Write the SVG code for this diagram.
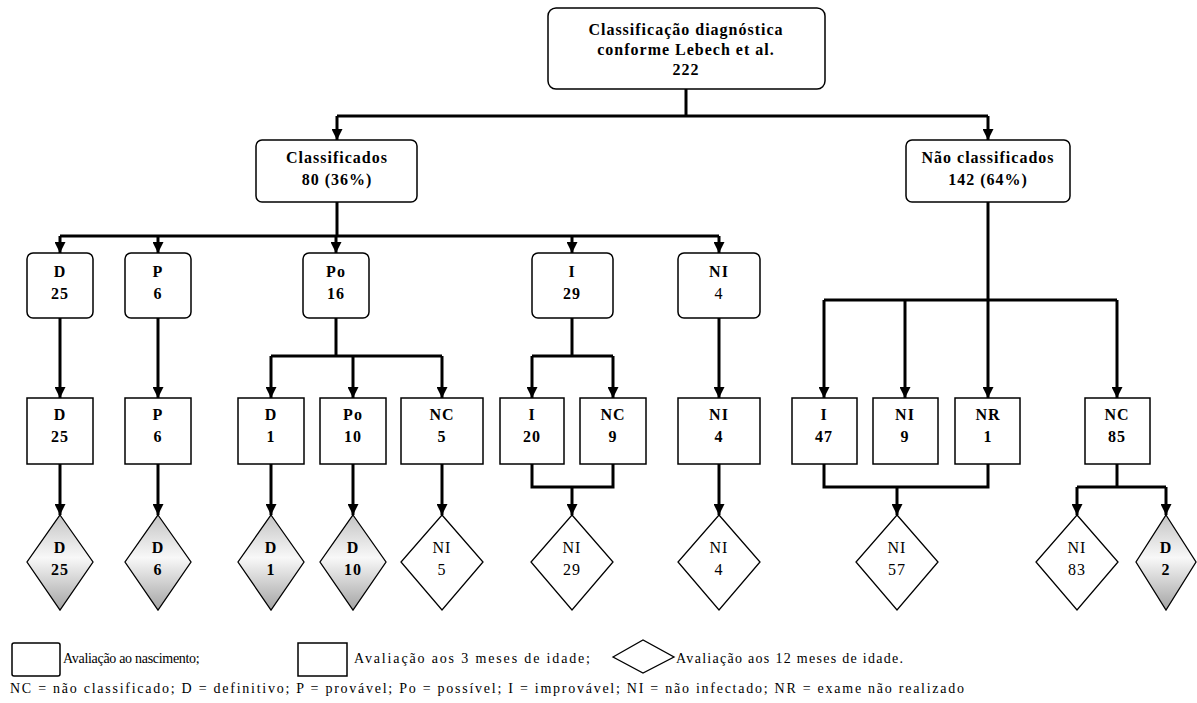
<svg xmlns="http://www.w3.org/2000/svg" width="1197" height="703" viewBox="0 0 1197 703">
<style>
.box{fill:#fff;stroke:#000;stroke-width:1.5}
.dia{fill:#fff;stroke:#000;stroke-width:1.3}
.dd{fill:url(#g);stroke:#000;stroke-width:1.3}
.t{font-family:"Liberation Serif","Times New Roman",serif;font-size:16px;font-weight:bold;text-anchor:middle;fill:#000;letter-spacing:1px}
.n{font-weight:normal}
.lg{font-family:"Liberation Serif","Times New Roman",serif;font-size:14px;fill:#000}
.c line,.c polyline{stroke:#000;stroke-width:3;fill:none}
.a{marker-end:url(#arr)}
</style>
<defs>
<marker id="arr" viewBox="0 0 10 10" refX="10" refY="5" markerWidth="11" markerHeight="11" markerUnits="userSpaceOnUse" orient="auto"><path d="M0,0 L10,5 L0,10 z" fill="#000"/></marker>
<linearGradient id="g" x1="0" y1="0" x2="0" y2="1"><stop offset="0" stop-color="#c4c4c4"/><stop offset="0.45" stop-color="#f8f8f8"/><stop offset="1" stop-color="#a4a4a4"/></linearGradient>
</defs>
<rect width="1197" height="703" fill="#fff"/>

<g id="connectors" class="c">
<line x1="686" y1="89" x2="686" y2="116"/>
<line x1="337" y1="116" x2="988" y2="116"/>
<line class="a" x1="337" y1="116" x2="337" y2="140"/>
<line class="a" x1="988" y1="116" x2="988" y2="140"/>
<line x1="337" y1="202" x2="337" y2="236"/>
<line x1="60" y1="236" x2="719" y2="236"/>
<line class="a" x1="60" y1="236" x2="60" y2="253"/>
<line class="a" x1="158" y1="236" x2="158" y2="253"/>
<line class="a" x1="336" y1="236" x2="336" y2="253"/>
<line class="a" x1="572" y1="236" x2="572" y2="253"/>
<line class="a" x1="719" y1="236" x2="719" y2="253"/>
<line class="a" x1="60" y1="318" x2="60" y2="398"/>
<line class="a" x1="158" y1="318" x2="158" y2="398"/>
<line x1="336" y1="318" x2="336" y2="356"/>
<line x1="271" y1="356" x2="442" y2="356"/>
<line class="a" x1="271" y1="356" x2="271" y2="398"/>
<line class="a" x1="353" y1="356" x2="353" y2="398"/>
<line class="a" x1="442" y1="356" x2="442" y2="398"/>
<line x1="572" y1="318" x2="572" y2="356"/>
<line x1="532" y1="356" x2="613" y2="356"/>
<line class="a" x1="532" y1="356" x2="532" y2="398"/>
<line class="a" x1="613" y1="356" x2="613" y2="398"/>
<line class="a" x1="719" y1="318" x2="719" y2="398"/>
<line x1="988" y1="202" x2="988" y2="300"/>
<line x1="824" y1="300" x2="1117" y2="300"/>
<line class="a" x1="824" y1="300" x2="824" y2="398"/>
<line class="a" x1="905" y1="300" x2="905" y2="398"/>
<line class="a" x1="988" y1="300" x2="988" y2="398"/>
<line class="a" x1="1117" y1="300" x2="1117" y2="398"/>
<line class="a" x1="60" y1="464" x2="60" y2="515"/>
<line class="a" x1="158" y1="464" x2="158" y2="515"/>
<line class="a" x1="271" y1="464" x2="271" y2="515"/>
<line class="a" x1="353" y1="464" x2="353" y2="515"/>
<line class="a" x1="442" y1="464" x2="442" y2="515"/>
<polyline points="532,464 532,487 613,487 613,464"/>
<line class="a" x1="572" y1="487" x2="572" y2="515"/>
<line class="a" x1="719" y1="464" x2="719" y2="515"/>
<polyline points="824,464 824,487 988,487 988,464"/>
<line class="a" x1="897" y1="487" x2="897" y2="515"/>
<line x1="1117" y1="464" x2="1117" y2="487"/>
<line x1="1077" y1="487" x2="1166" y2="487"/>
<line class="a" x1="1077" y1="487" x2="1077" y2="515"/>
<line class="a" x1="1166" y1="487" x2="1166" y2="515"/>
</g>

<g id="root"><rect class="box" x="548" y="8" width="277" height="81" rx="8"/>
<text class="t" x="686" y="35">Classificação diagnóstica</text>
<text class="t" x="686" y="55">conforme Lebech et al.</text>
<text class="t" x="686" y="75">222</text></g>

<g id="classificados"><rect class="box" x="256" y="140" width="161" height="62" rx="6"/>
<text class="t" x="337" y="163">Classificados</text><text class="t" x="337" y="185">80 (36%)</text></g>
<g id="nao-classificados"><rect class="box" x="906" y="140" width="164" height="62" rx="6"/>
<text class="t" x="988" y="163">Não classificados</text><text class="t" x="988" y="185">142 (64%)</text></g>

<g id="b-D25"><rect class="box" x="27" y="253" width="66" height="65" rx="6"/><text class="t" x="60" y="277">D</text><text class="t" x="60" y="299">25</text></g>
<g id="b-P6"><rect class="box" x="125" y="253" width="66" height="65" rx="6"/><text class="t" x="158" y="277">P</text><text class="t" x="158" y="299">6</text></g>
<g id="b-Po16"><rect class="box" x="303" y="253" width="66" height="65" rx="6"/><text class="t" x="336" y="277">Po</text><text class="t" x="336" y="299">16</text></g>
<g id="b-I29"><rect class="box" x="532" y="253" width="81" height="65" rx="6"/><text class="t" x="572" y="277">I</text><text class="t" x="572" y="299">29</text></g>
<g id="b-NI4"><rect class="box" x="678" y="253" width="82" height="65" rx="6"/><text class="t" x="719" y="277">NI</text><text class="t n" x="719" y="299">4</text></g>

<g id="m-D25"><rect class="box" x="27" y="398" width="66" height="66"/><text class="t" x="60" y="420">D</text><text class="t" x="60" y="442">25</text></g>
<g id="m-P6"><rect class="box" x="125" y="398" width="66" height="66"/><text class="t" x="158" y="420">P</text><text class="t" x="158" y="442">6</text></g>
<g id="m-D1"><rect class="box" x="238" y="398" width="66" height="66"/><text class="t" x="271" y="420">D</text><text class="t" x="271" y="442">1</text></g>
<g id="m-Po10"><rect class="box" x="320" y="398" width="66" height="66"/><text class="t" x="353" y="420">Po</text><text class="t" x="353" y="442">10</text></g>
<g id="m-NC5"><rect class="box" x="401" y="398" width="82" height="66"/><text class="t" x="442" y="420">NC</text><text class="t" x="442" y="442">5</text></g>
<g id="m-I20"><rect class="box" x="500" y="398" width="64" height="66"/><text class="t" x="532" y="420">I</text><text class="t" x="532" y="442">20</text></g>
<g id="m-NC9"><rect class="box" x="580" y="398" width="66" height="66"/><text class="t" x="613" y="420">NC</text><text class="t" x="613" y="442">9</text></g>
<g id="m-NI4"><rect class="box" x="678" y="398" width="82" height="66"/><text class="t" x="719" y="420">NI</text><text class="t" x="719" y="442">4</text></g>
<g id="m-I47"><rect class="box" x="792" y="398" width="65" height="66"/><text class="t" x="824" y="420">I</text><text class="t" x="824" y="442">47</text></g>
<g id="m-NI9"><rect class="box" x="873" y="398" width="65" height="66"/><text class="t" x="905" y="420">NI</text><text class="t" x="905" y="442">9</text></g>
<g id="m-NR1"><rect class="box" x="955" y="398" width="65" height="66"/><text class="t" x="988" y="420">NR</text><text class="t" x="988" y="442">1</text></g>
<g id="m-NC85"><rect class="box" x="1085" y="398" width="65" height="66"/><text class="t" x="1117" y="420">NC</text><text class="t" x="1117" y="442">85</text></g>

<g id="d-D25"><polygon class="dd" points="60,515 93,562 60,610 27,562"/><text class="t" x="60" y="553">D</text><text class="t" x="60" y="575">25</text></g>
<g id="d-D6"><polygon class="dd" points="158,515 191,562 158,610 125,562"/><text class="t" x="158" y="553">D</text><text class="t" x="158" y="575">6</text></g>
<g id="d-D1"><polygon class="dd" points="271,515 304,562 271,610 238,562"/><text class="t" x="271" y="553">D</text><text class="t" x="271" y="575">1</text></g>
<g id="d-D10"><polygon class="dd" points="353,515 386,562 353,610 320,562"/><text class="t" x="353" y="553">D</text><text class="t" x="353" y="575">10</text></g>
<g id="d-NI5"><polygon class="dia" points="442,515 483,562 442,610 401,562"/><text class="t n" x="442" y="553">NI</text><text class="t n" x="442" y="575">5</text></g>
<g id="d-NI29"><polygon class="dia" points="572,515 613,562 572,610 531,562"/><text class="t n" x="572" y="553">NI</text><text class="t n" x="572" y="575">29</text></g>
<g id="d-NI4"><polygon class="dia" points="719,515 760,562 719,610 678,562"/><text class="t n" x="719" y="553">NI</text><text class="t n" x="719" y="575">4</text></g>
<g id="d-NI57"><polygon class="dia" points="897,515 938,562 897,610 856,562"/><text class="t n" x="897" y="553">NI</text><text class="t n" x="897" y="575">57</text></g>
<g id="d-NI83"><polygon class="dia" points="1077,515 1118,562 1077,610 1036,562"/><text class="t n" x="1077" y="553">NI</text><text class="t n" x="1077" y="575">83</text></g>
<g id="d-D2"><polygon class="dd" points="1166,515 1196,562 1166,610 1136,562"/><text class="t" x="1166" y="553">D</text><text class="t" x="1166" y="575">2</text></g>

<g id="legend">
<rect class="box" x="12" y="643" width="48" height="33" rx="2"/>
<text class="lg" x="63" y="663" letter-spacing="-0.3">Avaliação ao nascimento;</text>
<rect class="box" x="298" y="643" width="49" height="33"/>
<text class="lg" x="354" y="663" textLength="236" lengthAdjust="spacing">Avaliação aos 3 meses de idade;</text>
<polygon class="dia" points="613,657 643,640 674,657 643,673"/>
<text class="lg" x="676" y="663" textLength="227" lengthAdjust="spacing">Avaliação aos 12 meses de idade.</text>
<text class="lg" x="10" y="693" textLength="954" lengthAdjust="spacing">NC = não classificado; D = definitivo; P = provável; Po = possível; I = improvável; NI = não infectado;  NR = exame não realizado</text>
</g>
</svg>
